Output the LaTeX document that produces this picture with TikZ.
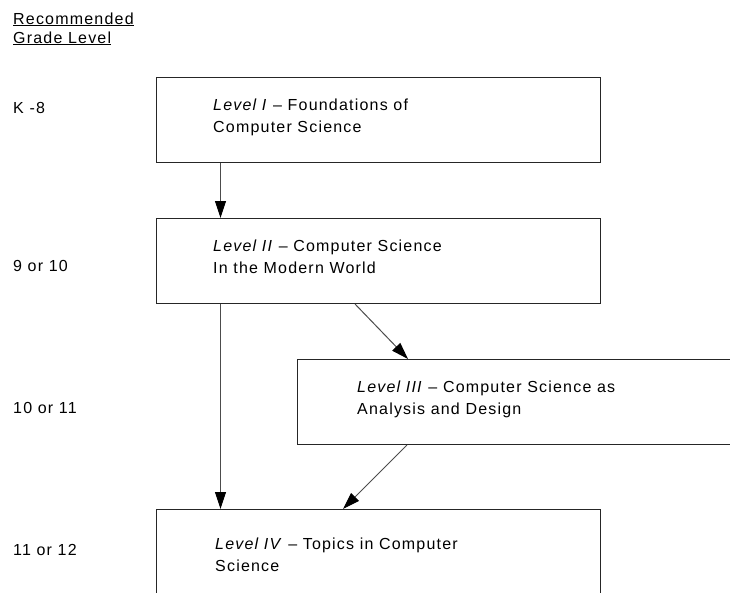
\documentclass[tikz,border=0pt]{standalone}
\usepackage{fontspec}
\setmainfont{Liberation Sans}[LetterSpace=7.5]
\usetikzlibrary{arrows.meta}
\begin{document}
\begin{tikzpicture}[x=1pt,y=-1pt,
  box/.style={draw=black!85, line width=1pt, rectangle, inner sep=0pt, anchor=north west},
  lbl/.style={inner sep=0pt, align=left, font=\fontsize{16}{22}\selectfont},
  arr/.style={draw=black!70, line width=1pt, -{Triangle[length=17pt,width=11pt,fill=black,color=black]}}]
\useasboundingbox (0,0) rectangle (730,592);
\clip (0,0) rectangle (730,592);
% boxes
\node[box, minimum width=444pt, minimum height=85pt] (b1) at (156,77) {};
\node[box, minimum width=444pt, minimum height=85pt] (b2) at (156,218) {};
\node[box, minimum width=460pt, minimum height=85pt] (b3) at (297,359) {};
\node[box, minimum width=444pt, minimum height=100pt] (b4) at (156,509) {};
% box texts (base anchor = baseline of the last line)
\node[lbl, anchor=base west] (t1) at (213,132) {\textit{Level I} – Foundations of\\Computer Science};
\node[lbl, anchor=base west] (t2) at (213,273) {\textit{Level II} – Computer Science\\In the Modern World};
\node[lbl, anchor=base west] (t3) at (357,414) {\textit{Level III} – Computer Science as\\Analysis and Design};
\node[lbl, anchor=base west] (t4) at (215,571) {\textit{Level IV} – Topics in Computer\\Science};
% grade labels
\node[lbl, anchor=base west, font=\fontsize{16}{19}\selectfont] (hdr) at (13,43) {\underline{Recommended}\\\underline{Grade Level}};
\node[lbl, anchor=base west] (g1) at (13,113) {K -8};
\node[lbl, anchor=base west] (g2) at (13,271) {9 or 10};
\node[lbl, anchor=base west] (g3) at (13,413) {10 or 11};
\node[lbl, anchor=base west] (g4) at (13,555) {11 or 12};
% connectors
\draw[arr] ([xshift=64.5pt]b1.south west) -- ([xshift=64.5pt]b2.north west);
\draw[arr] ([xshift=64.5pt]b2.south west) -- ([xshift=64.5pt]b4.north west);
\draw[arr] ([xshift=199pt]b2.south west) -- ([xshift=111pt]b3.north west);
\draw[arr] ([xshift=110pt]b3.south west) -- ([xshift=187pt]b4.north west);
\end{tikzpicture}
\end{document}
